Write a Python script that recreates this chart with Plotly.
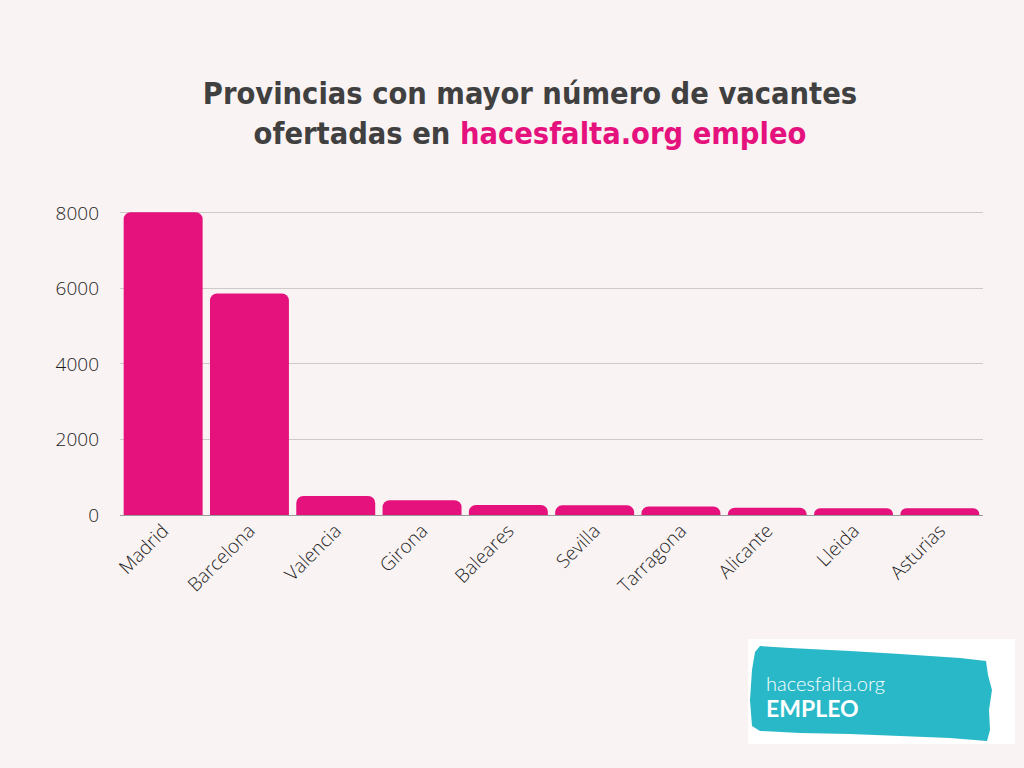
import plotly.graph_objects as go

provincias = ["Madrid", "Barcelona", "Valencia", "Girona", "Baleares", "Sevilla",
              "Tarragona", "Alicante", "Lleida", "Asturias"]
vacantes = [8020, 5865, 505, 390, 265, 255, 225, 195, 180, 180]
y_ticks = [0, 2000, 4000, 6000, 8000]

BG = "rgb(249,243,243)"
PINK = "#e5127e"
TEAL = "#29b8c8"

L, R, T, B = 120, 41, 211, 253
PW = 1024 - L - R
PH = 768 - T - B

fig = go.Figure()
fig.add_trace(go.Bar(x=provincias, y=vacantes, marker=dict(color=PINK, line=dict(width=0)),
                     hoverinfo="x+y"))

fig.update_layout(
    width=1024, height=768,
    paper_bgcolor=BG, plot_bgcolor=BG,
    margin=dict(l=L, r=R, t=T, b=B),
    bargap=0.085,
    barcornerradius=7,
    showlegend=False,
    title=dict(
        text="<b>Provincias con mayor número de vacantes<br>ofertadas en <span style='color:#e5127e'>hacesfalta.org empleo</span></b>",
        x=530/1024, xanchor="center", xref="container",
        y=1-104/768, yanchor="middle", yref="container",
        font=dict(family="DejaVu Sans Condensed", size=30.5, color="#404040"),
    ),
    xaxis=dict(
        tickangle=-45,
        tickfont=dict(family="Open Sans", size=19, color="#1e1e1e", weight=300),
        showgrid=False, showline=False, ticks="",
    ),
    yaxis=dict(
        range=[0, 8050],
        tickvals=y_ticks,
        ticktext=[str(v) for v in y_ticks],
        tickfont=dict(family="Open Sans", size=19, color="#1e1e1e", weight=300),
        showgrid=True, gridcolor="#cfcaca", gridwidth=1,
        zeroline=True, zerolinecolor="#999999", zerolinewidth=1,
        showline=False, ticks="", ticklabelstandoff=20,
    ),
    font=dict(family="Open Sans"),
)

def fx(xp):
    return (xp - L) / PW

def fy(yp):
    return (768 - B - yp) / PH

# Logo box
fig.add_shape(type="rect", xref="paper", yref="paper",
              x0=fx(748), x1=fx(1015), y0=fy(744), y1=fy(639),
              fillcolor="white", line=dict(width=0), layer="above")

pts = [(755, 652), (760, 646), (790, 648), (850, 651), (900, 654), (960, 658),
       (986, 661), (988, 675), (992, 690), (989, 710), (990, 730), (987, 741),
       (950, 738), (900, 736), (850, 734), (800, 733), (760, 731), (752, 726),
       (750, 700), (752, 670)]
path = "M " + " L ".join(f"{fx(x):.5f},{fy(y):.5f}" for x, y in pts) + " Z"
fig.add_shape(type="path", xref="paper", yref="paper", path=path,
              fillcolor=TEAL, line=dict(width=0), layer="above")

fig.add_annotation(x=fx(764), y=fy(683), xref="paper", yref="paper",
                   text="hacesfalta.org", showarrow=False, xanchor="left", yanchor="middle",
                   font=dict(family="Lato", size=20, color="white", weight=300))
fig.add_annotation(x=fx(764), y=fy(708), xref="paper", yref="paper",
                   text="<b>EMPLEO</b>", showarrow=False, xanchor="left", yanchor="middle",
                   font=dict(family="Lato", size=23, color="white"))

fig.write_html("out.html")
